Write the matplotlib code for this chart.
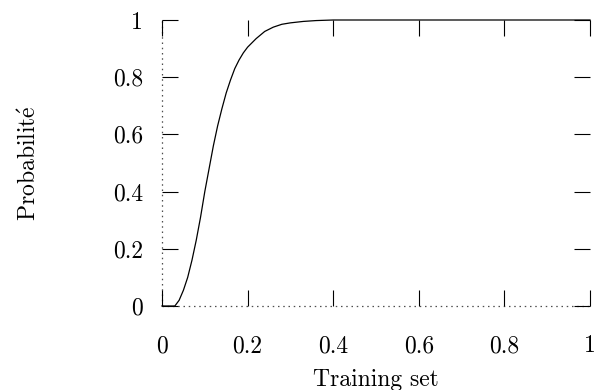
import matplotlib
matplotlib.use("Agg")
import matplotlib.pyplot as plt

# fraction of the training set vs probability
train_frac = [0, 0.02, 0.03, 0.04, 0.05, 0.06, 0.07, 0.08, 0.09, 0.10,
              0.11, 0.12, 0.13, 0.14, 0.15, 0.16, 0.17, 0.18, 0.19, 0.20,
              0.22, 0.24, 0.26, 0.28, 0.30, 0.33, 0.36, 0.40, 1.0]
proba = [0, 0, 0.0, 0.02, 0.055, 0.10, 0.16, 0.23, 0.31, 0.40,
         0.48, 0.56, 0.63, 0.69, 0.745, 0.79, 0.83, 0.86, 0.885, 0.905,
         0.935, 0.96, 0.975, 0.985, 0.99, 0.995, 0.998, 1.0, 1.0]

ticks = [0, 0.2, 0.4, 0.6, 0.8, 1]
tick_labels = ["0", "0.2", "0.4", "0.6", "0.8", "1"]

plt.rcParams["font.family"] = ["cmr10", "DejaVu Serif"]
plt.rcParams["mathtext.fontset"] = "cm"
plt.rcParams["axes.unicode_minus"] = False

fig = plt.figure(figsize=(5.94, 3.9), dpi=100)
ax = fig.add_axes([162 / 594, 1 - 306 / 390, 428 / 594, 286 / 390])

# dotted zero axes
ax.plot([0, 1], [0, 0], color="0.3", lw=0.9, ls=(0, (1.2, 3)), zorder=1,
        clip_on=False)
ax.plot([0, 0], [0, 1], color="0.3", lw=0.9, ls=(0, (1.2, 3)), zorder=1,
        clip_on=False)

ax.plot(train_frac, proba, color="black", lw=0.9, zorder=3, clip_on=False)

ax.set_xlim(0, 1)
ax.set_ylim(0, 1)
for s in ax.spines.values():
    s.set_visible(False)

ax.set_xticks(ticks)
ax.set_xticklabels(tick_labels)
ax.set_yticks(ticks)
ax.set_yticklabels(tick_labels)
ax.tick_params(direction="in", length=11.5, width=0.8, top=True, right=True,
               labelsize=17)
ax.tick_params(axis="x", pad=21)
ax.tick_params(axis="y", pad=13.5)

ax.set_xlabel("Training set", fontsize=17, labelpad=8)
ax.set_ylabel(r"$\mathrm{Probabilit\acute{e}}$", fontsize=17, labelpad=52)

fig.savefig("out.png", dpi=100)
